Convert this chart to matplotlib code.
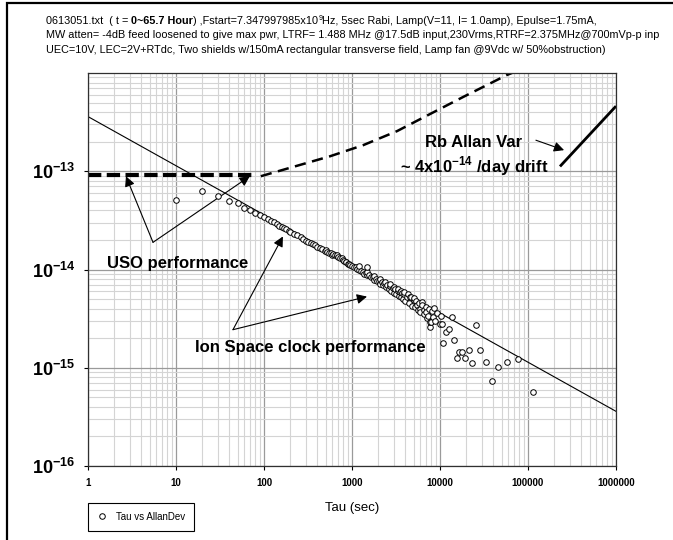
import numpy as np
import matplotlib
matplotlib.use("Agg")
import matplotlib.pyplot as plt
from matplotlib.patches import Rectangle
from matplotlib.ticker import LogLocator, NullFormatter

plt.rcParams['font.family'] = ['Liberation Sans', 'DejaVu Sans']
plt.rcParams['mathtext.fontset'] = 'custom'
plt.rcParams['mathtext.rm'] = 'Liberation Sans'
plt.rcParams['mathtext.bf'] = 'Liberation Sans:bold'

tau = [10, 20, 30, 40, 50, 60, 70, 80, 90, 100, 110, 120, 130, 140, 150,
       160, 170, 180, 190, 200, 220, 240, 260, 280, 300, 320, 340, 360, 380,
       400, 430, 460, 490, 500, 520, 550, 580, 600, 610, 640, 670, 680, 700,
       740, 760, 780, 820, 850, 860, 900, 930, 950, 1000,
       1050, 1100, 1150, 1200, 1200, 1260, 1320, 1380, 1440, 1500, 1500, 1500,
       1570, 1640, 1710, 1780, 1800, 1850, 1930, 2010, 2090, 2100, 2170, 2250,
       2340, 2400, 2430, 2520, 2610, 2700, 2700, 2800, 2900, 3000, 3000, 3100,
       3200, 3300, 3300, 3400, 3500, 3600, 3600, 3700, 3800, 3900, 3900, 4000,
       4200, 4300, 4400, 4600, 4700, 4800, 5000, 5100, 5200, 5400, 5500, 5600,
       5800, 5900, 6000, 6200, 6300, 6500, 6600, 6900, 7000, 7200, 7400, 7500,
       7700, 7700, 7800, 8100, 8400, 8550, 8800, 9250, 10000, 10230, 10500,
       10900, 11700, 12600, 13700, 14500, 15500, 16600, 17800, 19100, 21300,
       23000, 25700, 28500, 33400, 39000, 45700, 57600, 77000, 114000]
adev_e15 = [50.6, 62.5, 56.0, 50.0, 47.0, 42.5, 40.0, 38.0, 36.0, 34.2, 33.0,
            31.5, 30.2, 29.2, 28.0, 27.3, 26.3, 25.7, 24.8, 24.3, 23.2, 22.2,
            21.2, 20.5, 19.7, 19.2, 18.5, 18.1, 17.6, 17.1, 16.6, 16.0, 15.6,
            15.9, 15.2, 14.8, 14.6, 14.1, 14.3, 14.0, 13.7, 13.9, 13.4, 13.0,
            13.1, 12.6, 12.2, 12.0, 11.8, 11.4, 11.5, 11.0, 10.8,
            10.6, 10.5, 10.1, 10.0, 10.8, 9.6, 9.5, 9.1, 9.2, 8.7, 9.4, 10.5,
            8.7, 8.3, 8.4, 7.9, 8.6, 8.0, 7.6, 7.7, 7.2, 8.0, 7.4, 6.9,
            7.3, 7.5, 6.6, 7.0, 6.4, 6.8, 7.1, 6.1, 6.5, 5.8, 6.7, 6.3,
            5.6, 6.1, 6.3, 5.4, 5.9, 5.2, 6.1, 5.8, 5.0, 5.6, 5.9, 4.8,
            5.3, 5.6, 4.6, 5.2, 5.3, 4.3, 4.9, 5.1, 4.2, 4.8, 4.4, 3.9,
            4.6, 4.0, 3.7, 4.7, 4.4, 3.9, 3.5, 4.2, 3.7, 3.2, 3.4, 4.0,
            2.6, 2.9, 2.9, 3.8, 3.3, 4.09, 3.0, 3.6, 2.8, 3.4, 2.8,
            1.8, 2.3, 2.5, 3.3, 1.9, 1.26, 1.45, 1.45, 1.26, 1.5,
            1.12, 2.7, 1.5, 1.14, 0.74, 1.02, 1.14, 1.23, 0.57]

# tau^-1/2 fit line
fit_tau = [1, 1e6]
fit_adev = [3.6e-13, 3.6e-16]

# USO performance (dashed)
uso_flat_tau = [1, 75]
uso_flat_adev = [9.2e-14, 9.2e-14]
uso_tau = [92, 562, 1334, 3245, 7695, 18250, 57700, 69200]
uso_adev = [8.9e-14, 1.42e-13, 1.84e-13, 2.56e-13, 3.82e-13, 5.69e-13, 9.55e-13, 1.02e-12]

# Rb Allan variance with drift
rb_tau = [2.31e5, 1e6]
rb_adev = [1.12e-13, 4.6e-13]

yticks = [1e-16, 1e-15, 1e-14, 1e-13]
ytick_labels = [r'$\mathbf{10^{-16}}$', r'$\mathbf{10^{-15}}$',
                r'$\mathbf{10^{-14}}$', r'$\mathbf{10^{-13}}$']
xticks = [1, 10, 100, 1000, 10000, 100000, 1000000]
xtick_labels = ['1', '10', '100', '1000', '10000', '100000', '1000000']

W, H = 673, 540
fig = plt.figure(figsize=(W / 100, H / 100), dpi=100)
ax = fig.add_axes([88 / W, 1 - 466 / H, (616 - 88) / W, (466 - 73) / H])
ax.set_xscale('log')
ax.set_yscale('log')
ax.set_xlim(1, 1e6)
ax.set_ylim(1e-16, 1e-12)

ax.xaxis.set_minor_locator(LogLocator(base=10, subs=np.arange(2, 10), numticks=30))
ax.yaxis.set_minor_locator(LogLocator(base=10, subs=np.arange(2, 10), numticks=30))
ax.xaxis.set_minor_formatter(NullFormatter())
ax.yaxis.set_minor_formatter(NullFormatter())
ax.grid(which='major', color='#9a9a9a', lw=0.9)
ax.grid(which='minor', color='#d4d4d4', lw=0.8)
ax.set_axisbelow(True)

ax.set_yticks(yticks)
ax.set_yticklabels(ytick_labels, fontsize=13)
ax.set_xticks(xticks)
ax.set_xticklabels(xtick_labels, fontsize=7, fontweight='bold')
ax.tick_params(which='major', length=3, width=0.8, pad=6)
ax.tick_params(which='minor', length=0)
for s in ax.spines.values():
    s.set_linewidth(0.9)
    s.set_color('#303030')

ax.plot(fit_tau, fit_adev, color='black', lw=0.8)
ax.plot(uso_flat_tau, uso_flat_adev, color='black', lw=3.0, dashes=(3.2, 1.3),
        solid_capstyle='butt', dash_capstyle='butt')
ax.plot(uso_tau, uso_adev, color='black', lw=1.8, dashes=(4.5, 2.6),
        dash_capstyle='butt')
ax.plot(rb_tau, rb_adev, color='black', lw=2.0, solid_capstyle='butt')
ax.plot(tau, np.array(adev_e15) * 1e-15, 'o', ms=4, mfc='white', mec='black',
        mew=0.7, label='Tau vs AllanDev', zorder=5)

ax.set_xlabel('Tau (sec)', fontsize=9.5, labelpad=10)

arrow = dict(arrowstyle='-|>', color='black', lw=0.8, mutation_scale=15,
             shrinkA=0, shrinkB=0)
# USO performance
ax.annotate('', xy=(2.7, 8.9e-14), xytext=(5.48, 1.89e-14), arrowprops=arrow)
ax.annotate('', xy=(69, 8.9e-14), xytext=(5.48, 1.89e-14), arrowprops=arrow)
ax.text(10.3, 1.15e-14, 'USO performance', fontsize=12, fontweight='bold',
        ha='center', va='center')
# Ion Space clock performance
ax.annotate('', xy=(164, 2.17e-14), xytext=(44.4, 2.44e-15), arrowprops=arrow)
ax.annotate('', xy=(1480, 5.3e-15), xytext=(44.4, 2.44e-15), arrowprops=arrow)
ax.text(333, 1.6e-15, 'Ion Space clock performance', fontsize=12,
        fontweight='bold', ha='center', va='center')
# Rb
ax.annotate('', xy=(2.57e5, 1.64e-13), xytext=(1.23e5, 2.07e-13), arrowprops=arrow)
ax.text(24300, 1.98e-13, 'Rb Allan Var', fontsize=12, fontweight='bold',
        ha='center', va='center')
ax.text(24300, 1.12e-13, r'~ 4x10$^{\mathbf{-14}}$ /day drift', fontsize=12,
        fontweight='bold', ha='center', va='center')

leg = ax.legend(loc='upper left', bbox_to_anchor=(88 / W, 1 - 503 / H),
                bbox_transform=fig.transFigure, fancybox=False, framealpha=1,
                edgecolor='black', fontsize=7, borderaxespad=0, handlelength=1.0,
                handletextpad=1.0, borderpad=0.9)
leg.get_frame().set_linewidth(0.8)

# outer frame
fig.patches.append(Rectangle((7 / W, -0.1), 1.2, 1.1 - 3 / H, transform=fig.transFigure,
                             fill=False, lw=1.6, ec='black'))

# header text (three lines)
renderer = fig.canvas.get_renderer()
tsize = 7.85
def put_runs(x, y, runs):
    for s, w, sup in runs:
        if sup:
            t = fig.text(x / W, 1 - (y - 3) / H, s, fontsize=tsize * 0.65,
                         fontweight=w, va='center')
        else:
            t = fig.text(x / W, 1 - y / H, s, fontsize=tsize, fontweight=w,
                         va='center')
        x += t.get_window_extent(renderer).width

put_runs(46, 21, [('0613051.txt  ( t = ', 'normal', False),
                  ('0~65.7 Hour', 'bold', False),
                  (') ,Fstart=7.347997985x10', 'normal', False),
                  ('9', 'normal', True),
                  ('Hz, 5sec Rabi, Lamp(V=11, I= 1.0amp), Epulse=1.75mA,', 'normal', False)])
put_runs(46, 35.5, [('MW atten= -4dB feed loosened to give max pwr, LTRF= 1.488 MHz @17.5dB '
                     'input,230Vrms,RTRF=2.375MHz@700mVp-p inp', 'normal', False)])
put_runs(46, 50, [('UEC=10V, LEC=2V+RTdc, Two shields w/150mA rectangular transverse field, '
                   'Lamp fan @9Vdc w/ 50%obstruction)', 'normal', False)])

fig.savefig('out.png', dpi=100)
